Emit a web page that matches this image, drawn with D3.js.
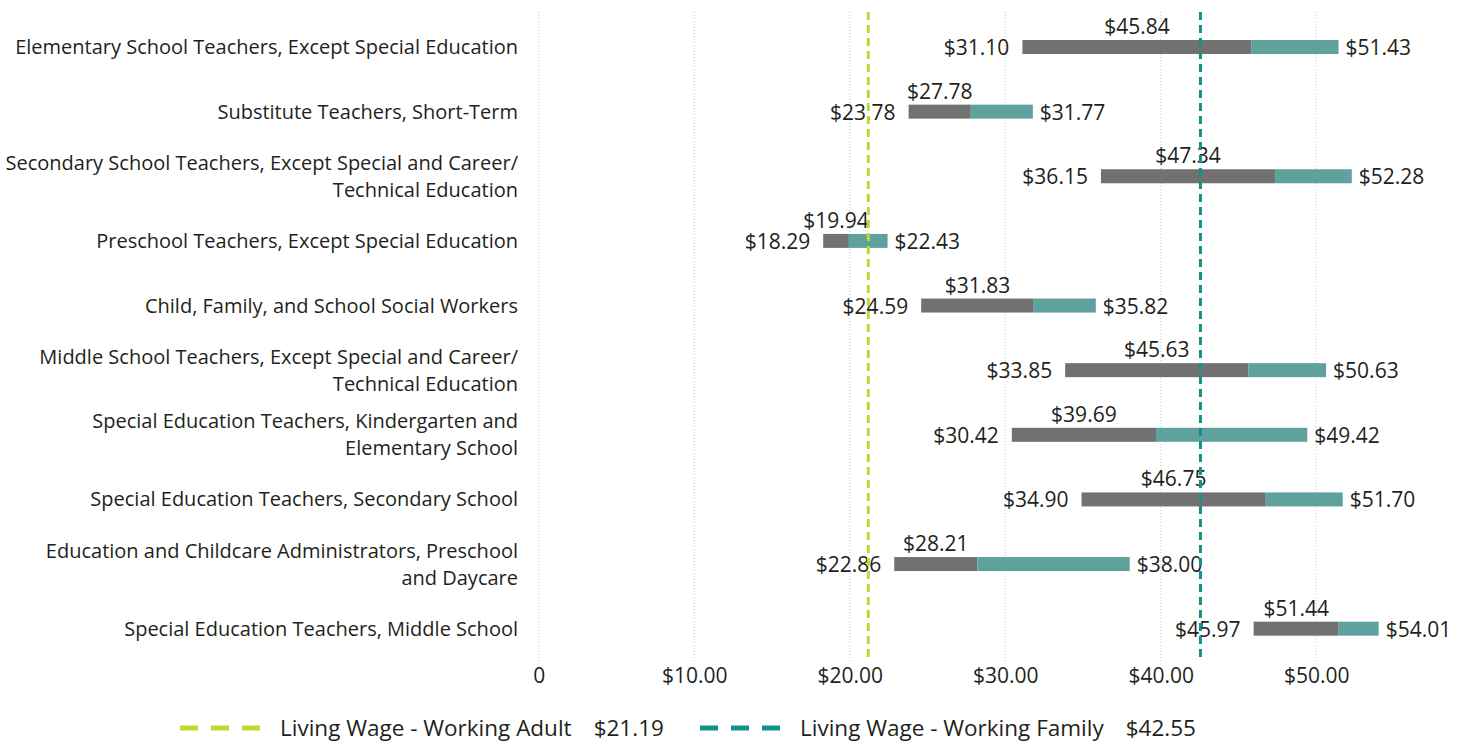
<!DOCTYPE html>
<html lang="en">
<head>
<meta charset="utf-8">
<script src="https://d3js.org/d3.v7.min.js"></script>
<style>
  body { margin: 0; background: #fff; }
  text { font-family: "Open Sans", "Noto Sans", sans-serif; fill: #231f20; }
</style>
</head>
<body>
<div id="chart"></div>
<script>
// occupations, top to bottom ("\n" = line break in the label)
const categories = [
  "Elementary School Teachers, Except Special Education",
  "Substitute Teachers, Short-Term",
  "Secondary School Teachers, Except Special and Career/\nTechnical Education",
  "Preschool Teachers, Except Special Education",
  "Child, Family, and School Social Workers",
  "Middle School Teachers, Except Special and Career/\nTechnical Education",
  "Special Education Teachers, Kindergarten and\nElementary School",
  "Special Education Teachers, Secondary School",
  "Education and Childcare Administrators, Preschool\nand Daycare",
  "Special Education Teachers, Middle School"
];
const lowWage    = [31.10, 23.78, 36.15, 18.29, 24.59, 33.85, 30.42, 34.90, 22.86, 45.97];
const medianWage = [45.84, 27.78, 47.34, 19.94, 31.83, 45.63, 39.69, 46.75, 28.21, 51.44];
const highWage   = [51.43, 31.77, 52.28, 22.43, 35.82, 50.63, 49.42, 51.70, 38.00, 54.01];

const xTicks = [0, 10, 20, 30, 40, 50];
const livingWageNames  = ["Living Wage - Working Adult", "Living Wage - Working Family"];
const livingWageValues = [21.19, 42.55];

const W = 1460, H = 744;
const grayCol = "#717171", tealCol = "#5fa19c";
const lwCols = ["#c2d82e", "#13928a"];

const data = categories.map((c, i) => ({
  cat: c, low: lowWage[i], med: medianWage[i], high: highWage[i]
}));

const svg = d3.select("#chart").append("svg")
  .attr("width", W).attr("height", H);

const x = d3.scaleLinear().domain([0, 60]).range([538.8, 1471.8]);
const y = d3.scaleBand().domain(categories).range([14.7, 661]).padding(0);
const bh = 14;
const cy = d => y(d.cat) + y.bandwidth() / 2;

// grid
svg.append("g").selectAll("line")
  .data(xTicks).enter().append("line")
  .attr("x1", d => x(d)).attr("x2", d => x(d))
  .attr("y1", 12).attr("y2", 661)
  .attr("stroke", "#b5d2d2")
  .attr("stroke-width", 1)
  .attr("stroke-dasharray", "1,2");

// x axis labels
const xAxis = d3.axisBottom(x)
  .tickValues(xTicks)
  .tickSize(0)
  .tickPadding(0)
  .tickFormat(d => d === 0 ? "0" : "$" + d.toFixed(2));
const ax = svg.append("g").attr("transform", "translate(0,668)").call(xAxis);
ax.select(".domain").remove();
ax.selectAll("text").attr("font-size", 21).attr("fill", "#231f20")
  .attr("dy", "0.71em")
  .style("font-family", "'Open Sans', 'Noto Sans', sans-serif");

// category labels
const catLbl = svg.append("g").selectAll("text")
  .data(data).enter().append("text")
  .attr("text-anchor", "end")
  .attr("font-size", 20);
catLbl.each(function(d) {
  const lines = d.cat.split("\n");
  const t = d3.select(this);
  lines.forEach((ln, k) => {
    t.append("tspan")
      .attr("x", 518)
      .attr("y", cy(d) + 7 + (k - (lines.length - 1) / 2) * 27)
      .text(ln);
  });
});

// bars: low -> median (gray), median -> high (teal)
const rows = svg.append("g").selectAll("g")
  .data(data).enter().append("g");
rows.append("rect")
  .attr("x", d => x(d.low)).attr("y", d => cy(d) - bh / 2)
  .attr("width", d => x(d.med) - x(d.low)).attr("height", bh)
  .attr("fill", grayCol);
rows.append("rect")
  .attr("x", d => x(d.med)).attr("y", d => cy(d) - bh / 2)
  .attr("width", d => x(d.high) - x(d.med)).attr("height", bh)
  .attr("fill", tealCol);

// living wage lines
svg.append("g").selectAll("line")
  .data(livingWageValues).enter().append("line")
  .attr("x1", d => x(d)).attr("x2", d => x(d))
  .attr("y1", 12).attr("y2", 661)
  .attr("stroke", (d, i) => lwCols[i])
  .attr("stroke-width", 3)
  .attr("stroke-dasharray", "8,5");

// value labels
rows.append("text")
  .attr("x", d => x(d.low) - 13).attr("y", d => cy(d) + 8)
  .attr("text-anchor", "end").attr("font-size", 21)
  .text(d => "$" + d.low.toFixed(2));
rows.append("text")
  .attr("x", d => x(d.high) + 7).attr("y", d => cy(d) + 8)
  .attr("text-anchor", "start").attr("font-size", 21)
  .text(d => "$" + d.high.toFixed(2));
rows.append("text")
  .attr("x", d => (x(d.low) + x(d.med)) / 2).attr("y", d => cy(d) - 13)
  .attr("text-anchor", "middle").attr("font-size", 21)
  .text(d => "$" + d.med.toFixed(2));

// legend
const legX = [180, 700];
const leg = svg.append("g").selectAll("g")
  .data(livingWageValues).enter().append("g")
  .attr("transform", (d, i) => `translate(${legX[i]},728)`);
leg.append("line")
  .attr("x1", 0).attr("x2", 81).attr("y1", 0).attr("y2", 0)
  .attr("stroke", (d, i) => lwCols[i])
  .attr("stroke-width", 5)
  .attr("stroke-dasharray", "18,13");
leg.each(function(d, i) {
  const g = d3.select(this);
  const name = g.append("text")
    .attr("x", 100).attr("y", 8).attr("font-size", 22.5)
    .text(livingWageNames[i]);
  const w = name.node().getComputedTextLength();
  g.append("text")
    .attr("x", 100 + w + 22).attr("y", 8).attr("font-size", 22.5)
    .text("$" + d.toFixed(2));
});
</script>
</body>
</html>
